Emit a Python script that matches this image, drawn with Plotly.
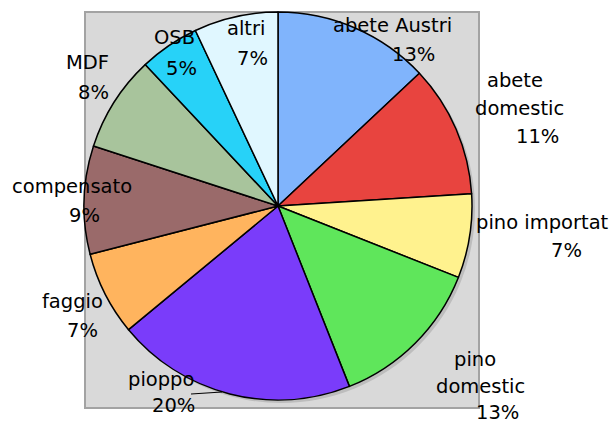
import plotly.graph_objects as go

categories = ["abete Austri", "abete domestic", "pino importat", "pino domestic", "pioppo",
              "faggio", "compensato", "MDF", "OSB", "altri"]
values = [13, 11, 7, 13, 20, 7, 9, 8, 5, 7]
colors = ["#80b4fc", "#e8443f", "#fff28e", "#5fe65b", "#7a3cfa",
          "#ffb45e", "#9a6a6a", "#a8c49c", "#27d2f8", "#e0f7ff"]

# label layout: (name lines, name positions, pct position) in pixels
label_pos = {
    "abete Austri": (["abete Austri"], [(393, 25)], (413, 55)),
    "abete domestic": (["abete", "domestic"], [(515, 80), (519, 108)], (537, 137)),
    "pino importat": (["pino importat"], [(542, 222)], (566, 250)),
    "pino domestic": (["pino", "domestic"], [(475, 359), (480, 386)], (497, 412)),
    "pioppo": (["pioppo"], [(161, 379)], (173, 405)),
    "faggio": (["faggio"], [(72, 301)], (82, 330)),
    "compensato": (["compensato"], [(72, 187)], (84, 215)),
    "MDF": (["MDF"], [(87, 63)], (93, 93)),
    "OSB": (["OSB"], [(174, 38)], (181, 68)),
    "altri": (["altri"], [(246, 28)], (252, 58)),
}

W, H = 614, 425
cx, cy, r = 278, 206, 194

fig = go.Figure()
fig.add_trace(go.Pie(
    labels=categories, values=values, sort=False, direction="clockwise", rotation=0,
    marker=dict(colors=colors, line=dict(color="black", width=1.5)),
    textinfo="none", hoverinfo="label+percent", showlegend=False,
    domain=dict(x=[(cx - r) / W, (cx + r) / W], y=[(H - cy - r) / H, (H - cy + r) / H]),
))

def px(x):
    return x / W

def py(y):
    return 1 - y / H

shapes = [
    dict(type="rect", xref="paper", yref="paper", x0=px(85), x1=px(479), y0=py(12), y1=py(408),
         fillcolor="#d9d9d9", line=dict(color="#a3a3a3", width=2), layer="below"),
    dict(type="circle", xref="paper", yref="paper", x0=px(cx - r + 3), x1=px(cx + r + 3),
         y0=py(cy + r + 3), y1=py(cy - r + 3), fillcolor="#bdbdbd", line=dict(width=0), layer="below"),
    dict(type="line", xref="paper", yref="paper", x0=px(191), y0=py(394), x1=px(222), y1=py(392),
         line=dict(color="black", width=1)),
]

annotations = []
font = dict(family="DejaVu Sans", size=19.5, color="#000000")
for cat, val in zip(categories, values):
    lines, pos, ppos = label_pos[cat]
    for t, (x, y) in zip(lines, pos):
        annotations.append(dict(text=t, x=px(x), y=py(y), xref="paper", yref="paper",
                                showarrow=False, xanchor="center", yanchor="middle", font=font))
    annotations.append(dict(text=f"{val}%", x=px(ppos[0]), y=py(ppos[1]), xref="paper", yref="paper",
                            showarrow=False, xanchor="center", yanchor="middle", font=font))

fig.update_layout(
    width=W, height=H, margin=dict(l=0, r=0, t=0, b=0),
    paper_bgcolor="white", plot_bgcolor="white",
    shapes=shapes, annotations=annotations,
)
fig.write_html("out.html")
